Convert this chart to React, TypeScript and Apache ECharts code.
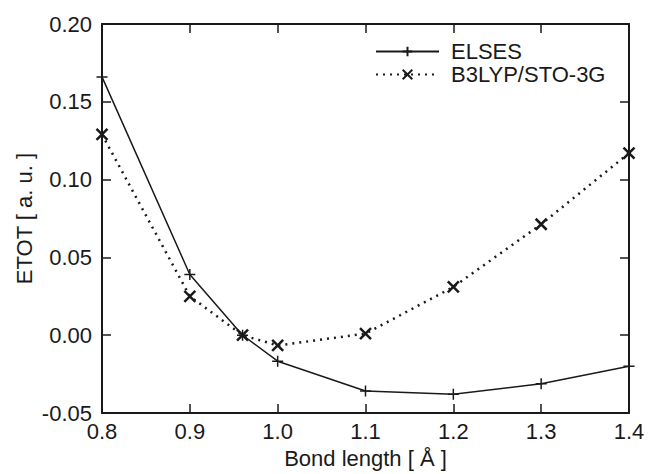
import React, { useEffect, useRef } from "react";
import * as echarts from "echarts";

const bondLength = [0.8, 0.9, 0.96, 1.0, 1.1, 1.2, 1.3, 1.4];
const elses = [0.166, 0.039, 0.0, -0.0167, -0.0359, -0.038, -0.0312, -0.02];
const b3lyp = [0.129, 0.025, 0.0, -0.0066, 0.001, 0.031, 0.0713, 0.117];
const seriesNames = ["ELSES", "B3LYP/STO-3G"];

const FONT = "Liberation Sans";
const INK = "#1a1a1a";
const FS = 22;

const plusSym = "path://M5,0L5,10M0,5L10,5";
const crossSym = "path://M0,0L10,10M0,10L10,0";

export default function App() {
  const ref = useRef<HTMLDivElement>(null);
  useEffect(() => {
    const chart = echarts.init(ref.current!, null, { renderer: "svg" });
    const pairs = (ys: number[]) => bondLength.map((x, i) => [x, ys[i]]);
    const axisCommon = {
      type: "value" as const,
      axisLine: { show: true, onZero: false, lineStyle: { color: INK, width: 2 } },
      axisTick: { show: true, inside: true, length: 9, lineStyle: { color: INK, width: 1.5 } },
      splitLine: { show: false },
    };
    chart.setOption({
      animation: false,
      backgroundColor: "#ffffff",
      textStyle: { fontFamily: FONT },
      grid: { left: 102, right: 19, top: 24, bottom: 59, containLabel: false },
      legend: {
        orient: "vertical",
        left: 370,
        top: 35,
        itemWidth: 63,
        itemHeight: 12,
        itemGap: 0,
        textStyle: {
          fontFamily: FONT,
          fontSize: FS,
          color: INK,
          lineHeight: 23,
          padding: [0, 0, 0, 7],
        },
        data: seriesNames,
      },
      xAxis: [
        {
          ...axisCommon,
          min: 0.8,
          max: 1.4,
          interval: 0.1,
          position: "bottom",
          name: "Bond length [ Å ]",
          nameLocation: "middle",
          nameGap: 34,
          nameMoveOverlap: false,
          nameTextStyle: { fontFamily: FONT, fontSize: FS, color: INK, verticalAlign: "top" },
          axisLabel: {
            fontFamily: FONT,
            fontSize: FS,
            color: INK,
            margin: 7,
            formatter: (v: number) => v.toFixed(1),
          },
        },
        {
          ...axisCommon,
          min: 0.8,
          max: 1.4,
          interval: 0.1,
          position: "top",
          axisLabel: { show: false },
        },
      ],
      yAxis: [
        {
          ...axisCommon,
          min: -0.05,
          max: 0.2,
          interval: 0.05,
          position: "left",
          name: "ETOT [ a. u. ]",
          nameLocation: "middle",
          nameGap: 67,
          nameMoveOverlap: false,
          nameTextStyle: { fontFamily: FONT, fontSize: FS, color: INK },
          axisLabel: {
            fontFamily: FONT,
            fontSize: FS,
            color: INK,
            margin: 10,
            formatter: (v: number) => v.toFixed(2),
          },
        },
        {
          ...axisCommon,
          min: -0.05,
          max: 0.2,
          interval: 0.05,
          position: "right",
          axisLabel: { show: false },
        },
      ],
      series: [
        {
          name: seriesNames[0],
          type: "line",
          data: pairs(elses),
          symbol: plusSym,
          symbolSize: 11,
          showAllSymbol: true,
          lineStyle: { color: INK, width: 1.5, type: "solid" },
          itemStyle: { color: "none", borderColor: INK, borderWidth: 1.5 },
          z: 3,
        },
        {
          name: seriesNames[1],
          type: "line",
          data: pairs(b3lyp),
          symbol: crossSym,
          symbolSize: 11,
          showAllSymbol: true,
          lineStyle: { color: INK, width: 2.5, type: [2, 5] },
          itemStyle: { color: "none", borderColor: INK, borderWidth: 2.5 },
          z: 4,
        },
      ],
    });
    return () => chart.dispose();
  }, []);
  return (
    <div
      ref={ref}
      style={{ position: "fixed", left: 0, top: 0, width: 648, height: 474 }}
    />
  );
}
